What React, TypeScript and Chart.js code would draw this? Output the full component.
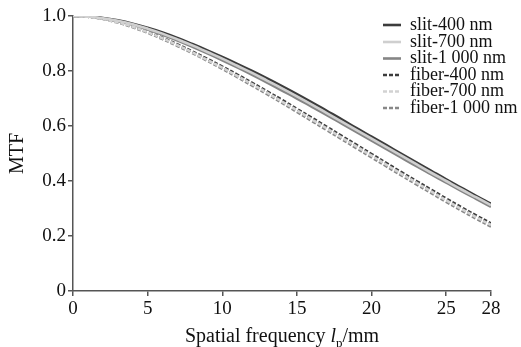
import React, { useEffect, useRef } from "react";
import { Chart, registerables } from "chart.js";

Chart.register(...registerables);

const freq = [0,1,2,3,4,5,6,7,8,9,10,11,12,13,14,15,16,17,18,19,20,21,22,23,24,25,26,27,28];
const slit400 = [1.000,0.998,0.993,0.984,0.972,0.957,0.940,0.920,0.898,0.875,0.851,0.826,0.800,0.773,0.745,0.716,0.686,0.655,0.624,0.592,0.561,0.530,0.499,0.468,0.437,0.406,0.376,0.346,0.317];
const slit700 = [1.000,0.998,0.992,0.983,0.970,0.954,0.936,0.915,0.893,0.869,0.845,0.819,0.793,0.765,0.737,0.708,0.678,0.647,0.616,0.585,0.554,0.523,0.492,0.461,0.430,0.400,0.370,0.341,0.312];
const slit1000 = [1.000,0.998,0.991,0.981,0.968,0.951,0.932,0.911,0.888,0.864,0.839,0.813,0.786,0.758,0.729,0.700,0.670,0.640,0.609,0.578,0.547,0.516,0.485,0.454,0.424,0.394,0.364,0.335,0.306];
const fiber400 = [1.000,0.997,0.990,0.978,0.962,0.943,0.921,0.897,0.871,0.844,0.816,0.787,0.757,0.726,0.695,0.662,0.630,0.597,0.564,0.531,0.498,0.465,0.432,0.400,0.368,0.336,0.305,0.275,0.246];
const fiber700 = [1.000,0.997,0.989,0.977,0.961,0.941,0.919,0.894,0.868,0.840,0.812,0.782,0.752,0.721,0.689,0.657,0.624,0.591,0.558,0.525,0.492,0.459,0.426,0.394,0.362,0.330,0.299,0.269,0.240];
const fiber1000 = [1.000,0.997,0.989,0.976,0.959,0.939,0.916,0.891,0.865,0.837,0.808,0.778,0.747,0.716,0.684,0.651,0.618,0.585,0.552,0.519,0.486,0.453,0.420,0.388,0.356,0.324,0.293,0.263,0.234];

const xTicks = [0, 5, 10, 15, 20, 25, 28];
const yTicks = [0, 0.2, 0.4, 0.6, 0.8, 1.0];
const seriesNames = ["slit-400 nm", "slit-700 nm", "slit-1 000 nm", "fiber-400 nm", "fiber-700 nm", "fiber-1 000 nm"];
const seriesValues = [slit400, slit700, slit1000, fiber400, fiber700, fiber1000];
const seriesColors = ["#3c3c3c", "#cfcfcf", "#858585", "#3c3c3c", "#d2d2d2", "#888888"];
const seriesDashed = [false, false, false, true, true, true];

const FONT = "'Liberation Serif', 'Times New Roman', serif";

export default function App() {
  const ref = useRef<HTMLCanvasElement | null>(null);
  useEffect(() => {
    if (!ref.current) return;
    const datasets = seriesNames.map((name, i) => ({
      label: name,
      data: freq.map((f, j) => ({ x: f, y: seriesValues[i][j] })),
      borderColor: seriesColors[i],
      borderWidth: 2.6,
      borderDash: seriesDashed[i] ? [4, 2] : [],
      pointRadius: 0,
      tension: 0.4,
      fill: false,
    }));
    const order = [4, 1, 5, 2, 3, 0];
    const ordered = order.map((k) => ({ ...datasets[k], order: 0 }));

    const legendPlugin = {
      id: "customLegend",
      afterDraw(chart: any) {
        const ctx = chart.ctx;
        ctx.save();
        const rows = [25, 42, 58.5, 75, 91.5, 108];
        seriesNames.forEach((name, i) => {
          const y = rows[i];
          ctx.strokeStyle = seriesColors[i];
          ctx.lineWidth = 2.6;
          ctx.setLineDash(seriesDashed[i] ? [4, 2] : []);
          ctx.beginPath();
          ctx.moveTo(383, y);
          ctx.lineTo(401, y);
          ctx.stroke();
          ctx.setLineDash([]);
          ctx.fillStyle = "#111";
          ctx.font = `18px ${FONT}`;
          ctx.textBaseline = "middle";
          ctx.textAlign = "left";
          ctx.fillText(name, 410, y);
        });
        const parts: [string, string, number][] = [
          ["Spatial frequency ", `20px ${FONT}`, 0],
          ["l", `italic 20px ${FONT}`, 0],
          ["p", `13px ${FONT}`, 5],
          ["/mm", `20px ${FONT}`, 0],
        ];
        let total = 0;
        parts.forEach(([t, f]) => { ctx.font = f; total += ctx.measureText(t).width; });
        const area = chart.chartArea;
        let x = (area.left + area.right) / 2 - total / 2;
        const baseY = 342;
        ctx.textBaseline = "alphabetic";
        parts.forEach(([t, f, dy]) => {
          ctx.font = f;
          ctx.fillText(t, x, baseY + dy);
          x += ctx.measureText(t).width;
        });
        ctx.restore();
      },
    };

    const chart = new Chart(ref.current, {
      type: "line",
      data: { datasets: ordered as any },
      options: {
        animation: false,
        responsive: false,
        maintainAspectRatio: false,
        layout: { padding: { left: 0, top: 16, right: 30, bottom: 0 } },
        plugins: { legend: { display: false }, tooltip: { enabled: false } },
        scales: {
          x: {
            type: "linear",
            min: 0,
            max: 28,
            afterBuildTicks: (s: any) => { s.ticks = xTicks.map((v) => ({ value: v })); },
            afterFit: (s: any) => { s.height = 56; },
            grid: { drawOnChartArea: false, drawTicks: true, tickLength: 5, color: "#555", lineWidth: 1.5 },
            border: { display: true, color: "#555", width: 1.5 },
            ticks: { color: "#111", font: { family: FONT, size: 19 }, padding: 2, maxRotation: 0, autoSkip: false },
          },
          y: {
            type: "linear",
            min: 0,
            max: 1,
            afterBuildTicks: (s: any) => { s.ticks = yTicks.map((v) => ({ value: v })); },
            afterFit: (s: any) => { s.width = 73; },
            grid: { drawOnChartArea: false, drawTicks: true, tickLength: 5, color: "#555", lineWidth: 1.5 },
            border: { display: true, color: "#555", width: 1.5 },
            ticks: {
              color: "#111",
              font: { family: FONT, size: 19 },
              padding: 2,
              callback: (v: any) => (v === 0 ? "0" : Number(v).toFixed(1)),
            },
            title: { display: true, text: "MTF", color: "#111", font: { family: FONT, size: 20 }, padding: { top: 6, bottom: 0 } },
          },
        },
      },
      plugins: [legendPlugin],
    });
    return () => chart.destroy();
  }, []);
  return (
    <div style={{ position: "fixed", left: 0, top: 0, width: 521, height: 347, background: "#fff" }}>
      <canvas ref={ref} width={521} height={347} style={{ width: 521, height: 347 }} />
    </div>
  );
}
